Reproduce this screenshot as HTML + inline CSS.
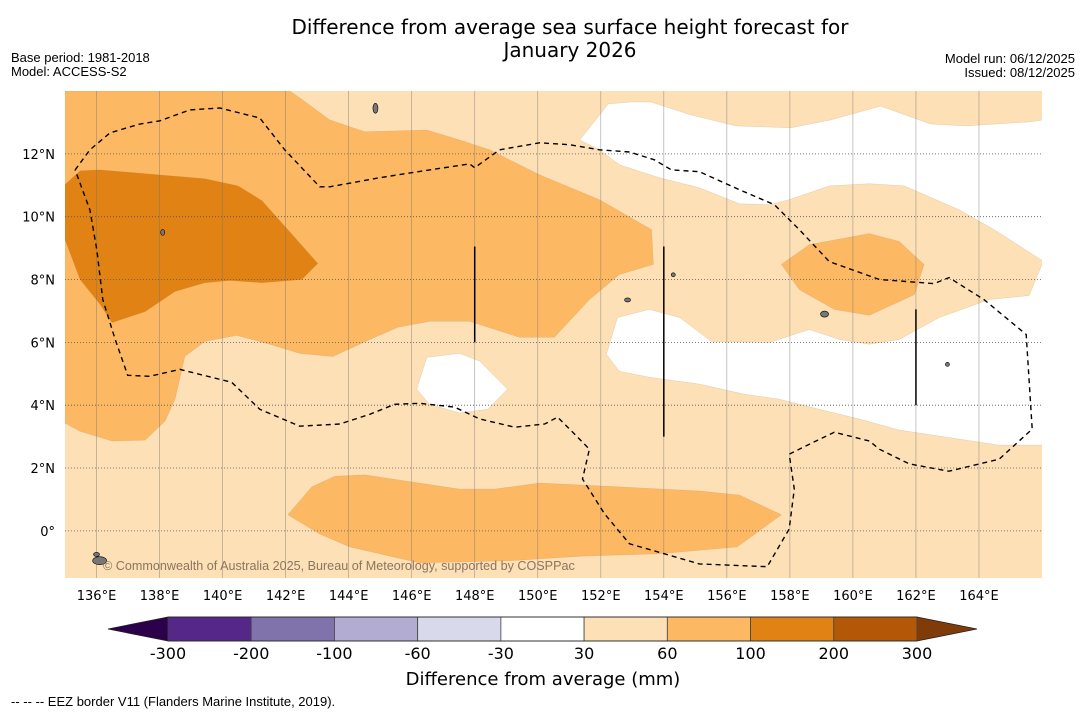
<!DOCTYPE html>
<html><head><meta charset="utf-8">
<style>
body{margin:0;background:#fff;}
svg{display:block;font-family:"DejaVu Sans","Liberation Sans",sans-serif;}
.lib{font-family:"Liberation Sans",sans-serif;}
</style></head>
<body>
<svg id="c" width="1085" height="713" viewBox="0 0 1085 713" xmlns="http://www.w3.org/2000/svg">
<text x="570" y="34" font-size="20" text-anchor="middle">Difference from average sea surface height forecast for</text>
<text x="570" y="57" font-size="20" text-anchor="middle">January 2026</text>
<text class="lib" x="11" y="62" font-size="13">Base period: 1981-2018</text>
<text class="lib" x="11" y="76" font-size="13">Model: ACCESS-S2</text>
<text class="lib" x="1075" y="63" font-size="13" text-anchor="end">Model run: 06/12/2025</text>
<text class="lib" x="1075" y="77" font-size="13" text-anchor="end">Issued: 08/12/2025</text>
<defs><clipPath id="mapclip"><rect x="65" y="91" width="977" height="487"/></clipPath></defs>
<g id="map" clip-path="url(#mapclip)"></g>
<g id="axes"></g>
<g id="cbar"></g>
<text x="543" y="685" font-size="18" text-anchor="middle">Difference from average (mm)</text>
<text class="lib" x="11" y="706" font-size="13">--  --  -- EEZ border V11 (Flanders Marine Institute, 2019).</text>
</svg>
<script>
// axes ranges
const lonMin=135.0, lonMax=166.0, latMin=-1.5, latMax=14.0;
const lonTicks=[136,138,140,142,144,146,148,150,152,154,156,158,160,162,164];
const latTicks=[0,2,4,6,8,10,12];
const cbLevels=[-300,-200,-100,-60,-30,30,60,100,200,300];
const cbColors=['#542788','#8073ac','#b2abd2','#d8daeb','#ffffff','#fee0b6','#fdb863','#e08214','#b35806'];
const cbEnds=['#2d004b','#7f3b08'];
// contour polygons (lon,lat)
const medTopLeft=[[135.0,14.0],[142.13,14.0],[142.45,13.78],[143.40,13.08],[144.51,12.70],[146.48,12.76],[147.52,12.44],[148.47,12.13],[150.06,11.33],[151.96,10.54],[153.61,9.59],[153.67,8.48],[152.59,8.16],[151.64,7.36],[150.53,6.16],[149.42,6.16],[147.84,6.67],[146.57,6.67],[145.56,6.48],[144.67,6.09],[143.50,5.55],[142.45,5.65],[141.50,5.94],[140.45,6.22],[139.44,6.03],[138.80,5.55],[138.49,4.19],[138.17,3.49],[137.54,2.89],[136.49,2.86],[135.48,3.17],[135.0,3.43]];
const medRight=[[157.73,8.48],[158.62,9.11],[160.52,9.46],[161.47,9.21],[162.26,8.48],[161.95,7.52],[160.52,6.86],[159.41,7.05],[158.30,7.68]];
const medBottom=[[142.07,0.51],[142.83,1.40],[143.56,1.74],[144.51,1.78],[147.52,1.33],[148.63,1.33],[150.06,1.52],[151.96,1.43],[155.13,1.27],[156.40,1.14],[157.73,0.51],[156.33,-0.51],[153.86,-0.73],[151.48,-0.80],[149.11,-0.95],[146.25,-1.02],[144.99,-0.73],[144.03,-0.51],[143.08,-0.10]];
const darkLeft=[[135.0,11.02],[135.48,11.46],[136.11,11.49],[139.44,11.21],[140.49,10.98],[141.25,10.51],[142.13,9.52],[143.02,8.51],[142.51,8.0],[141.25,7.90],[140.23,7.97],[139.44,7.90],[138.49,7.62],[137.54,6.98],[136.49,6.63],[136.11,7.21],[135.48,8.0],[135.0,9.27]];
const whiteTop=[[152.24,13.59],[152.96,13.65],[153.59,13.65],[154.86,13.24],[156.29,12.89],[158.03,12.83],[159.30,13.08],[160.88,13.52],[162.47,12.95],[163.58,12.89],[165.64,13.02],[166.2,13.11],[166.2,8.48],[164.48,9.59],[163.37,10.22],[161.63,10.98],[160.52,11.05],[159.25,10.98],[157.98,10.54],[157.35,10.38],[156.40,10.41],[155.13,10.92],[153.86,11.24],[152.59,11.65],[151.96,12.13],[151.33,12.44]];
const whiteMid=[[152.18,5.62],[152.53,6.79],[153.54,7.05],[154.50,6.79],[155.51,6.03],[157.35,6.0],[158.62,6.41],[159.57,6.09],[160.52,5.94],[161.47,6.09],[162.74,6.79],[164.32,7.36],[165.59,7.49],[166.0,8.48],[166.2,8.48],[166.2,2.73],[164.64,2.73],[163.37,2.92],[161.47,3.21],[160.20,3.56],[158.93,3.87],[157.67,4.19],[156.56,4.35],[155.13,4.67],[153.54,4.89],[152.59,5.08]];
const whiteSmall=[[146.48,5.52],[147.52,5.65],[148.16,5.40],[149.04,4.51],[148.41,3.87],[147.52,3.75],[146.57,4.03],[146.16,4.51]];
const eez=[[135.32,11.49],[135.79,12.13],[136.43,12.67],[137.38,12.95],[138.01,13.05],[138.96,13.40],[139.91,13.46],[141.18,13.14],[141.97,12.13],[143.08,10.95],[143.40,10.95],[144.99,11.24],[146.57,11.49],[147.84,11.68],[148.0,11.56],[148.79,12.13],[150.06,12.35],[151.01,12.29],[151.96,12.13],[152.91,12.06],[153.70,11.81],[154.24,11.49],[155.13,11.43],[156.40,10.86],[157.51,10.38],[158.30,9.59],[159.25,8.57],[160.84,8.0],[162.58,7.87],[163.05,8.06],[164.16,7.36],[165.50,6.25],[165.69,3.24],[164.64,2.28],[163.05,1.90],[161.79,2.13],[160.84,2.60],[160.52,2.86],[159.41,3.14],[158.62,2.76],[157.98,2.44],[158.14,1.33],[157.98,0.06],[157.28,-1.14],[155.13,-1.05],[154.02,-0.73],[152.91,-0.41],[152.12,0.54],[151.42,1.65],[151.64,2.60],[151.17,3.08],[150.63,3.62],[150.22,3.40],[149.27,3.30],[148.16,3.56],[147.36,3.94],[146.25,4.06],[145.46,4.03],[144.67,3.71],[143.72,3.40],[142.45,3.33],[141.18,3.87],[140.29,4.73],[139.28,4.98],[138.65,5.14],[137.69,4.92],[136.99,4.95],[136.59,6.10],[136.20,7.36],[136.01,8.95],[135.79,10.22],[135.32,11.49]];
const eezSegs=[[148,9.05,6.0],[154,9.05,3.0],[162,7.05,4.0]];
const islands=[[144.85,13.45,2.5,5],[159.1,6.9,4,3],[136.1,-0.95,7,4],[136.0,-0.75,3,2],[138.1,9.5,2,3],[152.85,7.35,3,2],[154.3,8.15,2,2],[163.0,5.3,2,2]];

const NS='http://www.w3.org/2000/svg';
const X0=65,X1=1042,Y0=91,Y1=578;
function xs(l){return X0+(l-lonMin)/(lonMax-lonMin)*(X1-X0);}
function ys(l){return Y0+(latMax-l)/(latMax-latMin)*(Y1-Y0);}
function mk(tag,attrs,parent){const e=document.createElementNS(NS,tag);for(const k in attrs)e.setAttribute(k,attrs[k]);parent.appendChild(e);return e;}
const map=document.getElementById('map');
const bg=mk('rect',{x:X0,y:Y0,width:X1-X0,height:Y1-Y0,fill:'#fee0b6'},map);


function poly(pts,fill,name){
  const p=mk('polygon',{points:pts.map(q=>xs(q[0]).toFixed(1)+','+ys(q[1]).toFixed(1)).join(' '),fill:fill,stroke:'#b08050','stroke-width':0.4,'stroke-opacity':0.4},map);
  
  
}
poly(medTopLeft,'#fdb863','contour-60-100-northwest');
poly(medRight,'#fdb863','contour-60-100-east');
poly(medBottom,'#fdb863','contour-60-100-south');
poly(darkLeft,'#e08214','contour-100-200-west');
poly(whiteTop,'#ffffff','contour-neutral-northeast');
poly(whiteMid,'#ffffff','contour-neutral-east');
poly(whiteSmall,'#ffffff','contour-neutral-small');
lonTicks.forEach(l=>{
  const g=mk('line',{x1:xs(l),x2:xs(l),y1:Y0,y2:Y1,stroke:'#777','stroke-width':0.7,'stroke-opacity':0.6},map);
  
  
});
latTicks.forEach(l=>{
  const g=mk('line',{x1:X0,x2:X1,y1:ys(l),y2:ys(l),stroke:'#555','stroke-width':0.8,'stroke-dasharray':'1,2'},map);
  
  
});
islands.forEach(s=>{
  const e=mk('ellipse',{cx:xs(s[0]),cy:ys(s[1]),rx:s[2],ry:s[3],fill:'#777',stroke:'#000','stroke-width':0.6},map);
  
  
});
const ez=mk('polyline',{points:eez.map(q=>xs(q[0]).toFixed(1)+','+ys(q[1]).toFixed(1)).join(' '),fill:'none',stroke:'#000','stroke-width':1.4,'stroke-dasharray':'5,4'},map);


eezSegs.forEach(s=>{
  const l=mk('line',{x1:xs(s[0]),x2:xs(s[0]),y1:ys(s[1]),y2:ys(s[2]),stroke:'#000','stroke-width':1.5},map);
  
  
});
const cp=mk('text',{x:103,y:570,'font-size':12.6,fill:'#8a7560','font-family':'Liberation Sans, sans-serif'},map);
cp.textContent='© Commonwealth of Australia 2025, Bureau of Meteorology, supported by COSPPac';


const axes=document.getElementById('axes');
lonTicks.forEach(l=>{
  const t=mk('text',{x:xs(l),y:600,'font-size':13,'text-anchor':'middle'},axes);
  t.textContent=l+'°E';
  
  
});
latTicks.forEach(l=>{
  const t=mk('text',{x:55,y:ys(l)+5,'font-size':13,'text-anchor':'end'},axes);
  t.textContent=l===0?'0°':l+'°N';
  
  
});
const cb=document.getElementById('cbar');
const cbX0=168,cbX1=917,cbY=617,cbH=24,n=cbColors.length,w=(cbX1-cbX0)/n;
const lt=mk('polygon',{points:`108,${cbY+cbH/2} ${cbX0},${cbY} ${cbX0},${cbY+cbH}`,fill:cbEnds[0]},cb);


const rt=mk('polygon',{points:`977,${cbY+cbH/2} ${cbX1},${cbY} ${cbX1},${cbY+cbH}`,fill:cbEnds[1]},cb);


cbColors.forEach((c,i)=>{
  const r=mk('rect',{x:cbX0+i*w,y:cbY,width:w,height:cbH,fill:c,stroke:'#444','stroke-width':0.8},cb);
  
  
});
mk('polygon',{points:`108,${cbY+cbH/2} ${cbX0},${cbY} ${cbX1},${cbY} 977,${cbY+cbH/2} ${cbX1},${cbY+cbH} ${cbX0},${cbY+cbH}`,fill:'none',stroke:'#222','stroke-width':0.8},cb);
cbLevels.forEach((v,i)=>{
  const t=mk('text',{x:cbX0+i*w,y:659,'font-size':16,'text-anchor':'middle'},cb);
  t.textContent=v;
  
  
});
</script>
</body></html>
